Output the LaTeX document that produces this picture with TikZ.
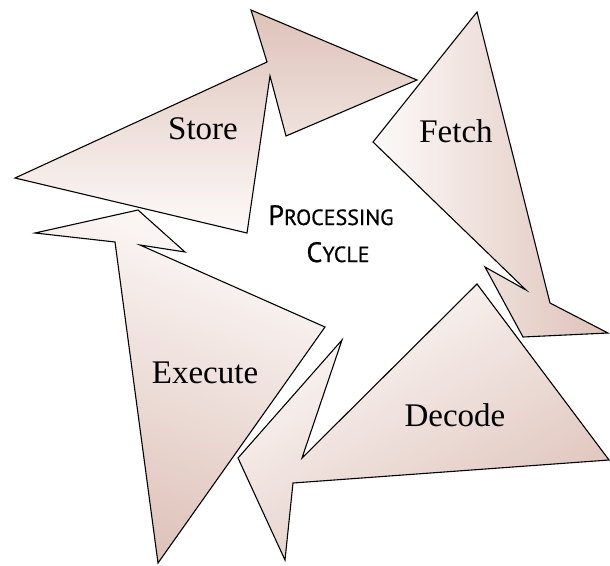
\documentclass[tikz,border=0pt]{standalone}
\usepackage{fontspec}
\setmainfont{Liberation Serif}
\newfontfamily\pcfont[BoldFont={PT Sans}, BoldFeatures={FakeBold=0.6}]{PT Sans}
\usetikzlibrary{shadings}
\definecolor{shdark}{RGB}{222,194,185}
\definecolor{shlight}{RGB}{253,250,249}
\tikzset{
  blade/.style={draw=black, line width=1.1pt, line join=miter, miter limit=25},
  lbl/.style={anchor=base, inner sep=0pt, font=\fontsize{33}{36}\selectfont},
  pc/.style={anchor=base, inner sep=0pt, font=\pcfont\bfseries},
}
\newcommand{\bigc}[1]{{\fontsize{28}{30}\selectfont #1}}
\newcommand{\smc}[1]{{\fontsize{22}{24}\selectfont #1}}
\begin{document}
\begin{tikzpicture}[x=1pt,y=-1pt]
\useasboundingbox (0,0) rectangle (610,565);
% Store
\path[blade, top color=shdark, bottom color=shlight]
  (417,80) -- (251,10) -- (267,62) -- (15,178) -- (247,233) -- (270,76) -- (286,136) -- cycle;
% Fetch
\path[blade, left color=shlight, right color=shdark]
  (477,12) -- (550,303) -- (608,333) -- (523,337) -- (485,267) -- (526,290) -- (373,142) -- cycle;
% Decode
\path[blade, top color=shlight, bottom color=shdark, shading angle=30]
  (477,284) -- (609,460) -- (293,483) -- (285,560) -- (238,458) -- (342,340) -- (302,458) -- cycle;
% Execute
\path[blade, top color=shlight, bottom color=shdark, shading angle=-20]
  (158,563) -- (325,327) -- (140,245) -- (185,252) -- (138,210) -- (35,233) -- (115,242) -- cycle;
% labels
\node[lbl] (store) at (203,139) {Store};
\node[lbl] (fetch) at (456,142) {Fetch};
\node[lbl] (decode) at (455,426) {Decode};
\node[lbl] (execute) at (205,383) {Execute};
\node[pc] (proc) at (331,225) {\bigc{P}\smc{ROCESSING}};
\node[pc] (cyc) at (338,262) {\bigc{C}\smc{YCLE}};
\end{tikzpicture}
\end{document}
